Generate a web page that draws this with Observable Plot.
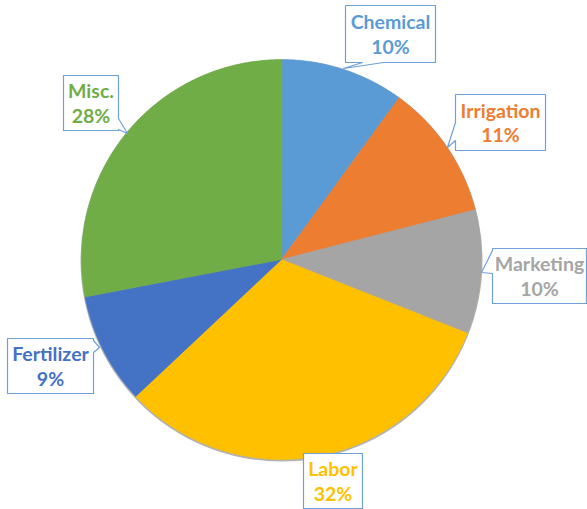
<!DOCTYPE html>
<html><head><meta charset="utf-8">
<script src="https://cdn.jsdelivr.net/npm/d3@7"></script>
<script src="https://cdn.jsdelivr.net/npm/@observablehq/plot@0.6"></script>
<style>body{margin:0;background:#fff}</style>
</head><body><div id="chart"></div>
<script>
// ---- data ----
const categories = ["Chemical", "Irrigation", "Marketing", "Labor", "Fertilizer", "Misc."];
const shares = [10, 11, 10, 32, 9, 28];
const sliceColors = ["#5B9BD5", "#ED7D31", "#A5A5A5", "#FFC000", "#4472C4", "#70AD47"];

// ---- layout (pixel space) ----
const W = 587, H = 509, cx = 281, cy = 259, R = 200;
const calloutBoxes = [
  {box: [345, 5, 435, 62], side: "bottom", a: 362, b: 383, tip: [343, 68]},
  {box: [455, 94, 545, 150], side: "left", a: 122, b: 140, tip: [447, 147]},
  {box: [492, 248, 586, 303], side: "left", a: 250, b: 273, tip: [481, 272]},
  {box: [303, 453, 362, 508], side: null},
  {box: [7, 338, 93, 393], side: "right", a: 340, b: 352, tip: [99, 347]},
  {box: [63, 75, 118, 130], side: "right", a: 118, b: 129, tip: [127, 133]}
];

// slices from data
const arcs = d3.pie().sort(null).value(d => d)(shares);
const slicePts = [];
arcs.forEach((a, i) => {
  slicePts.push({k: i, x: cx, y: cy});
  const n = Math.max(2, Math.ceil((a.endAngle - a.startAngle) / 0.01));
  for (let j = 0; j <= n; j++) {
    const t = a.startAngle + (a.endAngle - a.startAngle) * j / n;
    slicePts.push({k: i, x: cx + R * Math.sin(t), y: cy - R * Math.cos(t)});
  }
});

// callout polygons
const calloutPts = [];
calloutBoxes.forEach((c, i) => {
  const [x1, y1, x2, y2] = c.box;
  let pts = [];
  pts.push([x1, y1]);
  pts.push([x2, y1]);
  if (c.side === "right") { pts.push([x2, c.a], c.tip, [x2, c.b]); }
  pts.push([x2, y2]);
  if (c.side === "bottom") { pts.push([c.b, y2], c.tip, [c.a, y2]); }
  pts.push([x1, y2]);
  if (c.side === "left") { pts.push([x1, c.b], c.tip, [x1, c.a]); }
  pts.forEach(p => calloutPts.push({k: i, x: p[0], y: p[1]}));
});

const labels = categories.map((c, i) => {
  const [x1, y1, x2, y2] = calloutBoxes[i].box;
  return {text: `${c}\n${shares[i]}%`, x: (x1 + x2) / 2, y: (y1 + y2) / 2 - 0.5, color: sliceColors[i]};
});

const plot = Plot.plot({
  width: W, height: H,
  margin: 0,
  x: {domain: [0, W], range: [0, W], axis: null},
  y: {domain: [0, H], range: [0, H], axis: null},
  color: {type: "identity"},
  marks: [
    Plot.dot([0], {x: () => cx, y: () => cy + 1, r: R + 1, fill: "#000", fillOpacity: 0.3, stroke: "none", ariaLabel: "shadow"}),
    Plot.line(slicePts, {x: "x", y: "y", z: "k", fill: d => sliceColors[d.k], stroke: d => sliceColors[d.k], strokeWidth: 0.5, curve: "linear-closed"}),
    Plot.line(calloutPts, {x: "x", y: "y", z: "k", fill: "white", stroke: "#6FA0D8", strokeWidth: 1.2, curve: "linear-closed"}),
    Plot.text(labels, {x: "x", y: "y", text: "text", fill: "color", fontSize: 19.5, fontWeight: "bold", lineHeight: 1.28, fontFamily: "Lato", textAnchor: "middle"})
  ]
});
plot.style.fontFamily = "Lato";
d3.select(plot).select('g[aria-label="shadow"]').style("filter", "blur(3px)");
document.getElementById("chart").appendChild(plot);
</script>
</body></html>
